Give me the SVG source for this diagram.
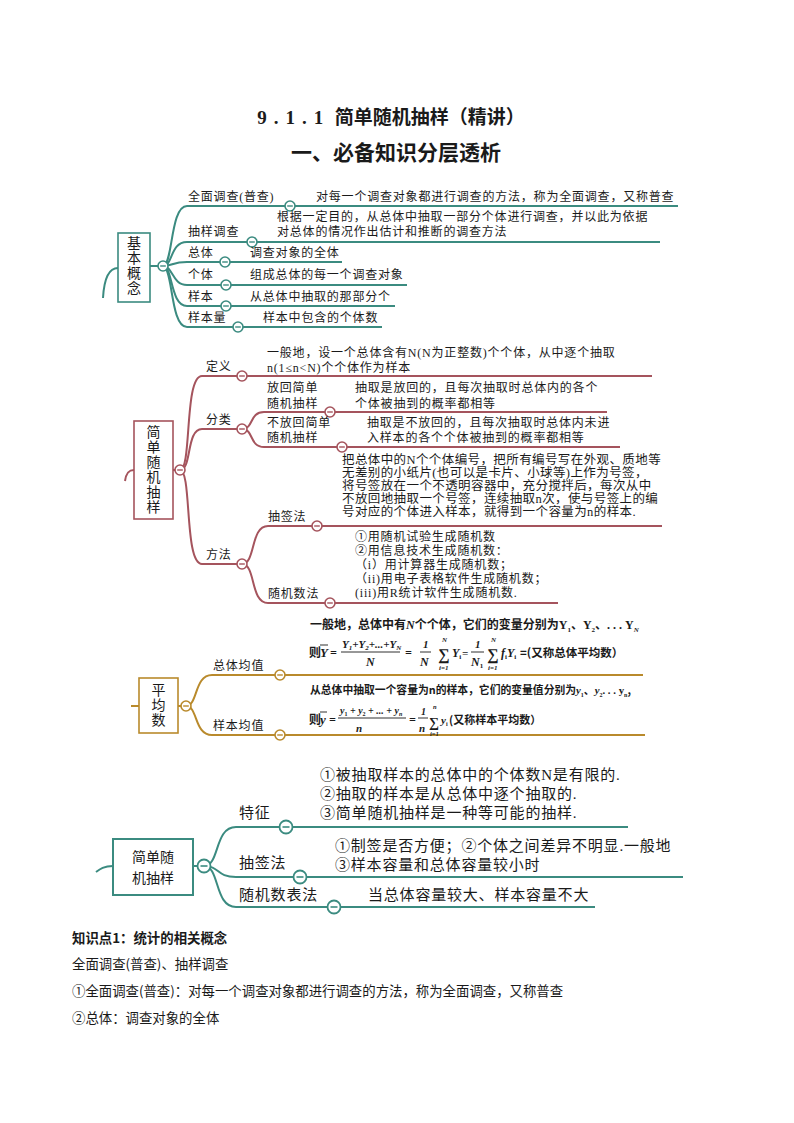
<svg xmlns="http://www.w3.org/2000/svg" width="794" height="1123" viewBox="0 0 794 1123">
<style>
text{font-family:"Liberation Serif","Noto Sans CJK SC",serif;fill:#1a1a1a;}
.s{font-size:12px;letter-spacing:0.8px;}
.s2{font-size:12.5px;letter-spacing:0.4px;}
.rt{font-size:14px;text-anchor:middle;}
.m{font-size:15px;letter-spacing:0.8px;}
.h{font-family:"Noto Sans CJK SC",sans-serif;font-weight:bold;}
.fx{font-family:"Liberation Serif",serif;font-weight:bold;font-style:italic;}
.bd{font-family:"Noto Sans CJK SC",sans-serif;font-size:13.4px;}
.tl{stroke:#3b8b80;fill:none;stroke-width:2;}
.mr{stroke:#a5545d;fill:none;stroke-width:2;}
.gd{stroke:#b98a2c;fill:none;stroke-width:2;}
.fb{stroke:#1a1a1a;stroke-width:0.9;}
</style>
<defs>
<g id="bt"><circle r="5" fill="#fff" stroke="#3b8b80" stroke-width="1.6"/><line x1="-2.8" y1="0" x2="2.8" y2="0" stroke="#3b8b80" stroke-width="1.4"/></g>
<g id="bt2"><circle r="6.5" fill="#fff" stroke="#3b8b80" stroke-width="1.8"/><line x1="-3.5" y1="0" x2="3.5" y2="0" stroke="#3b8b80" stroke-width="1.6"/></g>
<g id="bm"><circle r="5" fill="#fff" stroke="#a5545d" stroke-width="1.6"/><line x1="-2.8" y1="0" x2="2.8" y2="0" stroke="#a5545d" stroke-width="1.4"/></g>
<g id="bg"><circle r="5" fill="#fff" stroke="#b98a2c" stroke-width="1.6"/><line x1="-2.8" y1="0" x2="2.8" y2="0" stroke="#b98a2c" stroke-width="1.4"/></g>
</defs>

<g id="title">
<text class="h" x="391" y="124" font-size="19" text-anchor="middle"><tspan font-family="Liberation Serif" letter-spacing="7">9.1.1</tspan> 简单随机抽样（精讲）</text>
<text class="h" x="396" y="160" font-size="21" text-anchor="middle">一、必备知识分层透析</text>
</g>

<g id="connectors">
<!-- map 1 -->
<path class="tl" d="M118,268 C108,268 104,280 103,298"/>
<path class="tl" d="M150,266 L163,266"/>
<path class="tl" d="M163,266 C173,266 170,206 187,206 L678,206"/>
<path class="tl" d="M163,266 C173,266 170,242 187,242 L660,242"/>
<path class="tl" d="M163,266 C173,266 172,262 187,262 L342,262"/>
<path class="tl" d="M163,266 C173,266 172,285 187,285 L407,285"/>
<path class="tl" d="M163,266 C173,266 170,306 187,306 L395,306"/>
<path class="tl" d="M163,266 C173,266 170,327 187,327 L382,327"/>
<!-- map 2 -->
<path class="mr" d="M134,470 C128,470 126,474 125,481"/>
<path class="mr" d="M173,470 L180,470"/>
<path class="mr" d="M180,470 C192,470 184,376 202,376 L652,376"/>
<path class="mr" d="M180,470 C192,470 186,429 202,429 L242,429"/>
<path class="mr" d="M180,470 C192,470 184,564 202,564 L242,564"/>
<path class="mr" d="M242,429 C254,429 249,412 264,412 L607,412"/>
<path class="mr" d="M242,429 C254,429 249,447 264,447 L620,447"/>
<path class="mr" d="M242,564 C256,564 250,526 268,526 L662,526"/>
<path class="mr" d="M242,564 C256,564 250,603 268,603 L558,603"/>
<!-- map 3 -->
<path class="gd" d="M139,706 L131,706"/>
<path class="gd" d="M178,706 L186,706"/>
<path class="gd" d="M186,706 C198,706 194,675 212,675 L643,675"/>
<path class="gd" d="M186,706 C198,706 194,735 212,735 L645,735"/>
<!-- map 4 -->
<path class="tl" stroke-width="2.4" d="M113,866 C104,866 100,869 96,872"/>
<path class="tl" stroke-width="2.4" d="M193,866 L204,866"/>
<path class="tl" stroke-width="2.4" d="M204,866 C220,866 214,827 236,827 L628,827"/>
<path class="tl" stroke-width="2.4" d="M204,866 C220,866 216,877 236,877 L683,877"/>
<path class="tl" stroke-width="2.4" d="M204,866 C220,866 214,907 236,907 L595,907"/>
</g>

<g id="map1-root"><rect x="118" y="233" width="32" height="69" fill="#fff" stroke="#3b8b80" stroke-width="1.6"/>
<text class="rt" x="134" y="248">基</text><text class="rt" x="134" y="263">本</text><text class="rt" x="134" y="278">概</text><text class="rt" x="134" y="293">念</text>
<use href="#bt" x="163" y="266"/></g>
<g id="map1-quanmian"><text class="s" x="188" y="201">全面调查(普查)</text><use href="#bt" x="290" y="206"/><text class="s" x="316" y="201">对每一个调查对象都进行调查的方法，称为全面调查，又称普查</text></g>
<g id="map1-chouyang"><text class="s" x="188" y="236">抽样调查</text><use href="#bt" x="252" y="242"/><text class="s" x="277" y="221">根据一定目的，从总体中抽取一部分个体进行调查，并以此为依据</text><text class="s" x="277" y="236">对总体的情况作出估计和推断的调查方法</text></g>
<g id="map1-zongti"><text class="s" x="188" y="257">总体</text><use href="#bt" x="225" y="262"/><text class="s" x="250" y="257">调查对象的全体</text></g>
<g id="map1-geti"><text class="s" x="188" y="279">个体</text><use href="#bt" x="226" y="285"/><text class="s" x="250" y="279">组成总体的每一个调查对象</text></g>
<g id="map1-yangben"><text class="s" x="188" y="301">样本</text><use href="#bt" x="226" y="306"/><text class="s" x="250" y="301">从总体中抽取的那部分个</text></g>
<g id="map1-yangbenliang"><text class="s" x="188" y="322">样本量</text><use href="#bt" x="238" y="327"/><text class="s" x="263" y="322">样本中包含的个体数</text></g>

<g id="map2-root"><rect x="134" y="421" width="39" height="98" fill="#fff" stroke="#a5545d" stroke-width="1.6"/>
<text class="rt" x="153.5" y="437">简</text><text class="rt" x="153.5" y="452">单</text><text class="rt" x="153.5" y="467">随</text><text class="rt" x="153.5" y="482">机</text><text class="rt" x="153.5" y="497">抽</text><text class="rt" x="153.5" y="512">样</text>
<use href="#bm" x="180" y="470"/></g>
<g id="map2-dingyi"><text class="s" x="206" y="371">定义</text><use href="#bm" x="242" y="376"/><text class="s" x="267" y="357">一般地，设一个总体含有N(N为正整数)个个体，从中逐个抽取</text><text class="s" x="267" y="372">n(1≤n&lt;N)个个体作为样本</text></g>
<g id="map2-fenlei"><text class="s" x="206" y="424">分类</text><use href="#bm" x="242" y="429"/></g>
<g id="map2-fanghui"><text class="s" x="267" y="392">放回简单</text><text class="s" x="267" y="408">随机抽样</text><use href="#bm" x="330" y="412"/><text class="s" x="355" y="392">抽取是放回的，且每次抽取时总体内的各个</text><text class="s" x="355" y="408">个体被抽到的概率都相等</text></g>
<g id="map2-bufanghui"><text class="s" x="267" y="427">不放回简单</text><text class="s" x="267" y="442">随机抽样</text><use href="#bm" x="342" y="447"/><text class="s" x="367" y="427">抽取是不放回的，且每次抽取时总体内未进</text><text class="s" x="367" y="442">入样本的各个个体被抽到的概率都相等</text></g>
<g id="map2-fangfa"><text class="s" x="206" y="559">方法</text><use href="#bm" x="242" y="564"/></g>
<g id="map2-chouqian"><text class="s" x="268" y="521">抽签法</text><use href="#bm" x="317" y="526"/>
<text class="s2" x="342" y="464">把总体中的N个个体编号，把所有编号写在外观、质地等</text>
<text class="s2" x="342" y="477">无差别的小纸片(也可以是卡片、小球等)上作为号签，</text>
<text class="s2" x="342" y="490">将号签放在一个不透明容器中，充分搅拌后，每次从中</text>
<text class="s2" x="342" y="503">不放回地抽取一个号签，连续抽取n次，使与号签上的编</text>
<text class="s2" x="342" y="516">号对应的个体进入样本，就得到一个容量为n的样本.</text></g>
<g id="map2-suijishu"><text class="s" x="268" y="598">随机数法</text><use href="#bm" x="330" y="603"/>
<text class="s" x="355" y="541">①用随机试验生成随机数</text>
<text class="s" x="355" y="555">②用信息技术生成随机数：</text>
<text class="s" x="355" y="569">（i）用计算器生成随机数；</text>
<text class="s" x="355" y="583">（ii)用电子表格软件生成随机数；</text>
<text class="s" x="355" y="597">(iii)用R统计软件生成随机数.</text></g>

<g id="map3-root"><rect x="139" y="678" width="39" height="55" fill="#fff" stroke="#b98a2c" stroke-width="1.6"/>
<text class="rt" x="158.5" y="695">平</text><text class="rt" x="158.5" y="710">均</text><text class="rt" x="158.5" y="725">数</text>
<use href="#bg" x="186" y="706"/></g>
<g id="map3-zongti"><text class="s" x="213" y="670">总体均值</text><use href="#bg" x="280" y="675"/>
<text class="h" font-size="12" x="310" y="629">一般地，总体中有<tspan class="fx">N</tspan>个个体，它们的变量分别为<tspan font-family="Liberation Serif">Y</tspan><tspan font-family="Liberation Serif" font-size="7" dy="3">1</tspan><tspan dy="-3">、</tspan><tspan font-family="Liberation Serif">Y</tspan><tspan font-family="Liberation Serif" font-size="7" dy="3">2</tspan><tspan dy="-3">、</tspan><tspan font-family="Liberation Serif">. . . Y</tspan><tspan class="fx" font-size="7" dy="3">N</tspan></text>
<text class="h" font-size="12" x="309" y="657">则</text>
<text class="fx" font-size="13" x="320" y="657">Y</text><line class="fb" x1="320" y1="645" x2="328" y2="645"/>
<text class="fx" font-size="12" x="330" y="657">=</text>
<text class="fx" font-size="11" x="342" y="648">Y<tspan font-size="7" dy="2">1</tspan><tspan dy="-2">+Y</tspan><tspan font-size="7" dy="2">2</tspan><tspan dy="-2">+...+Y</tspan><tspan font-size="7" dy="2">N</tspan></text>
<line class="fb" x1="341" y1="652" x2="400" y2="652"/>
<text class="fx" font-size="12" x="366" y="666">N</text>
<text class="fx" font-size="12" x="405" y="657">=</text>
<text class="fx" font-size="11" x="423" y="648">1</text><line class="fb" x1="420" y1="652" x2="431" y2="652"/><text class="fx" font-size="12" x="420" y="666">N</text>
<text class="fx" font-size="16" font-style="normal" x="438" y="660">∑</text><text class="fx" font-size="7" x="442" y="642">N</text><text class="fx" font-size="7" font-style="normal" x="439" y="670">i=1</text>
<text class="fx" font-size="12" x="452" y="657">Y<tspan font-size="7" dy="2" font-style="normal">i</tspan></text>
<text class="fx" font-size="11" x="462" y="657">=</text>
<text class="fx" font-size="11" x="475" y="648">1</text><line class="fb" x1="471" y1="652" x2="484" y2="652"/><text class="fx" font-size="12" x="471" y="666">N<tspan font-size="7" dy="2" font-style="normal">1</tspan></text>
<text class="fx" font-size="16" font-style="normal" x="487" y="660">∑</text><text class="fx" font-size="7" x="491" y="642">N</text><text class="fx" font-size="7" font-style="normal" x="488" y="670">i=1</text>
<text class="fx" font-size="12" x="501" y="657">f<tspan font-size="7" dy="2" font-style="normal">i</tspan><tspan dy="-2">Y</tspan><tspan font-size="7" dy="2" font-style="normal">i</tspan></text>
<text class="h" font-size="11.5" x="520" y="657">=(又称总体平均数）</text></g>
<g id="map3-yangben"><text class="s" x="213" y="730">样本均值</text><use href="#bg" x="280" y="735"/>
<text class="h" font-size="10.8" x="310" y="694">从总体中抽取一个容量为n的样本，它们的变量值分别为<tspan class="fx" font-style="normal">y</tspan><tspan font-family="Liberation Serif" font-size="6" dy="3">1</tspan><tspan dy="-3">、</tspan><tspan class="fx" font-style="normal">y</tspan><tspan font-family="Liberation Serif" font-size="6" dy="3">2</tspan><tspan font-family="Liberation Serif" dy="-3">. . . y</tspan><tspan font-family="Liberation Serif" font-size="6" dy="3">n</tspan><tspan dy="-3">,</tspan></text>
<text class="h" font-size="12" x="309" y="724">则</text>
<text class="fx" font-size="13" x="320" y="724">y</text><line class="fb" x1="320" y1="712" x2="327" y2="712"/>
<text class="fx" font-size="12" x="329" y="724">=</text>
<text class="fx" font-size="10" x="340" y="714">y<tspan font-size="6" dy="2" font-style="normal">1</tspan><tspan dy="-2"> + y</tspan><tspan font-size="6" dy="2" font-style="normal">2</tspan><tspan dy="-2"> + ... + y</tspan><tspan font-size="6" dy="2">n</tspan></text>
<line class="fb" x1="338" y1="718" x2="406" y2="718"/>
<text class="fx" font-size="11" x="356" y="732">n</text>
<text class="fx" font-size="12" x="409" y="724">=</text>
<text class="fx" font-size="10" x="421" y="715">1</text><line class="fb" x1="418" y1="718" x2="428" y2="718"/><text class="fx" font-size="11" x="419" y="732">n</text>
<text class="fx" font-size="14" font-style="normal" x="429" y="727">∑</text><text class="fx" font-size="6.5" x="433" y="709">n</text><text class="fx" font-size="6.5" font-style="normal" x="430" y="736">i=1</text>
<text class="fx" font-size="11" x="441" y="724">y<tspan font-size="6" dy="2" font-style="normal">i</tspan></text>
<text class="h" font-size="11" x="449" y="724">(又称样本平均数）</text></g>

<g id="map4-root"><rect x="113" y="839" width="80" height="56" fill="#fff" stroke="#3b8b80" stroke-width="2"/>
<text class="rt" font-size="16" x="153" y="862">简单随</text><text class="rt" font-size="16" x="153" y="883">机抽样</text>
<use href="#bt2" x="204" y="866"/></g>
<g id="map4-tezheng"><text class="m" x="239" y="818">特征</text><use href="#bt2" x="286" y="827"/>
<text class="m" x="320" y="780">①被抽取样本的总体中的个体数N是有限的.</text>
<text class="m" x="320" y="799">②抽取的样本是从总体中逐个抽取的.</text>
<text class="m" x="320" y="818">③简单随机抽样是一种等可能的抽样.</text></g>
<g id="map4-chouqian"><text class="m" x="239" y="868">抽签法</text><use href="#bt2" x="300" y="877"/>
<text class="m" x="335" y="851">①制签是否方便；②个体之间差异不明显.一般地</text>
<text class="m" x="335" y="870">③样本容量和总体容量较小时</text></g>
<g id="map4-suijishubiao"><text class="m" x="239" y="900">随机数表法</text><use href="#bt2" x="334" y="907"/>
<text class="m" x="368" y="900">当总体容量较大、样本容量不大</text></g>

<g id="body">
<text class="bd" font-weight="bold" font-size="13.8" x="72" y="943">知识点1：统计的相关概念</text>
<text class="bd" x="72" y="969">全面调查(普查)、抽样调查</text>
<text class="bd" x="72" y="996">①全面调查(普查)：对每一个调查对象都进行调查的方法，称为全面调查，又称普查</text>
<text class="bd" x="72" y="1023">②总体：调查对象的全体</text>
</g>
</svg>
